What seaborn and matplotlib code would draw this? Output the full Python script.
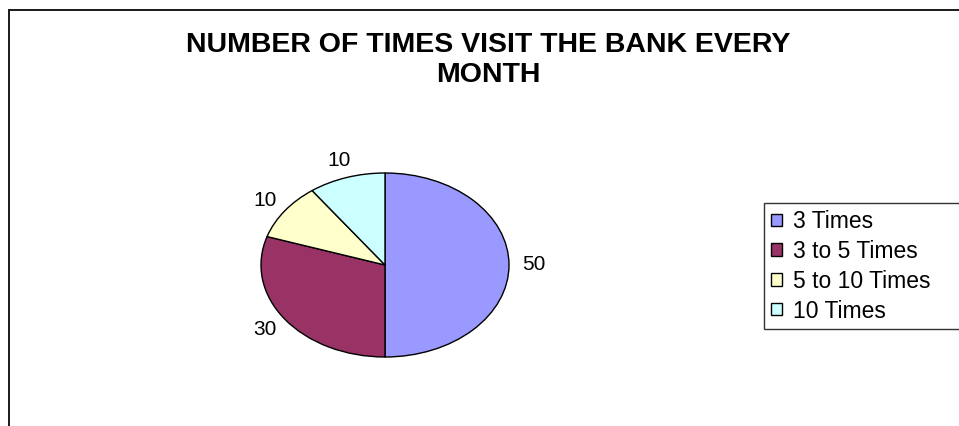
import matplotlib
matplotlib.use("Agg")
import matplotlib.pyplot as plt
import seaborn as sns
from matplotlib.patches import Rectangle

categories = ["3 Times", "3 to 5 Times", "5 to 10 Times", "10 Times"]
values = [50, 30, 10, 10]
colors = ["#9999FF", "#993366", "#FFFFCC", "#CCFFFF"]
title_text = "NUMBER OF TIMES VISIT THE BANK EVERY\nMONTH"

sns.set_theme(style="white")
plt.rcParams["font.family"] = ["Liberation Sans", "DejaVu Sans"]
plt.rcParams["text.color"] = "black"

W, H = 959, 426
fig = plt.figure(figsize=(W / 100, H / 100), dpi=100)
fig.patch.set_facecolor("white")

# outer chart border (left and top visible, extends past right/bottom)
fig.patches.append(Rectangle((9 / W, -0.2), 1.5, (H - 10) / H + 0.2,
                             transform=fig.transFigure, fill=False,
                             edgecolor="#1a1a1a", linewidth=1.4, clip_on=False))

# pie axes: ellipse centred at (385, 265), rx=124, ry=92
cx, cy, rx, ry = 385, 265, 124, 92
ax = fig.add_axes([(cx - rx) / W, (H - cy - ry) / H, 2 * rx / W, 2 * ry / H])
wedges, texts = ax.pie(values, labels=[str(v) for v in values], colors=colors,
                       startangle=90, counterclock=False, labeldistance=1.2,
                       wedgeprops=dict(edgecolor="black", linewidth=1.0),
                       textprops=dict(fontsize=15, color="black"))
for t in texts:
    t.set_ha("center")
    t.set_va("center")
ax.set_aspect("auto")
ax.set_xlim(-1, 1)
ax.set_ylim(-1, 1)
ax.axis("off")

fig.text(488 / W, 1 - 60 / H, title_text, ha="center", va="center",
         fontsize=20.5, fontweight="bold", linespacing=1.2, color="black")

leg = fig.legend(wedges, categories, loc="upper left",
                 bbox_to_anchor=(764 / W, 1 - 327 / H, 0.4, 124 / H), mode="expand",
                 fontsize=16.5,
                 frameon=True, fancybox=False, handlelength=0.5, handleheight=0.45,
                 handletextpad=0.45, labelspacing=0.3, borderpad=0.3,
                 borderaxespad=0, edgecolor="black")
leg.get_frame().set_linewidth(1.0)
for txt in leg.get_texts():
    txt.set_color("black")
for h in leg.legend_handles:
    h.set_edgecolor("black")
    h.set_linewidth(1.0)

fig.savefig("out.png", dpi=100, facecolor="white")
